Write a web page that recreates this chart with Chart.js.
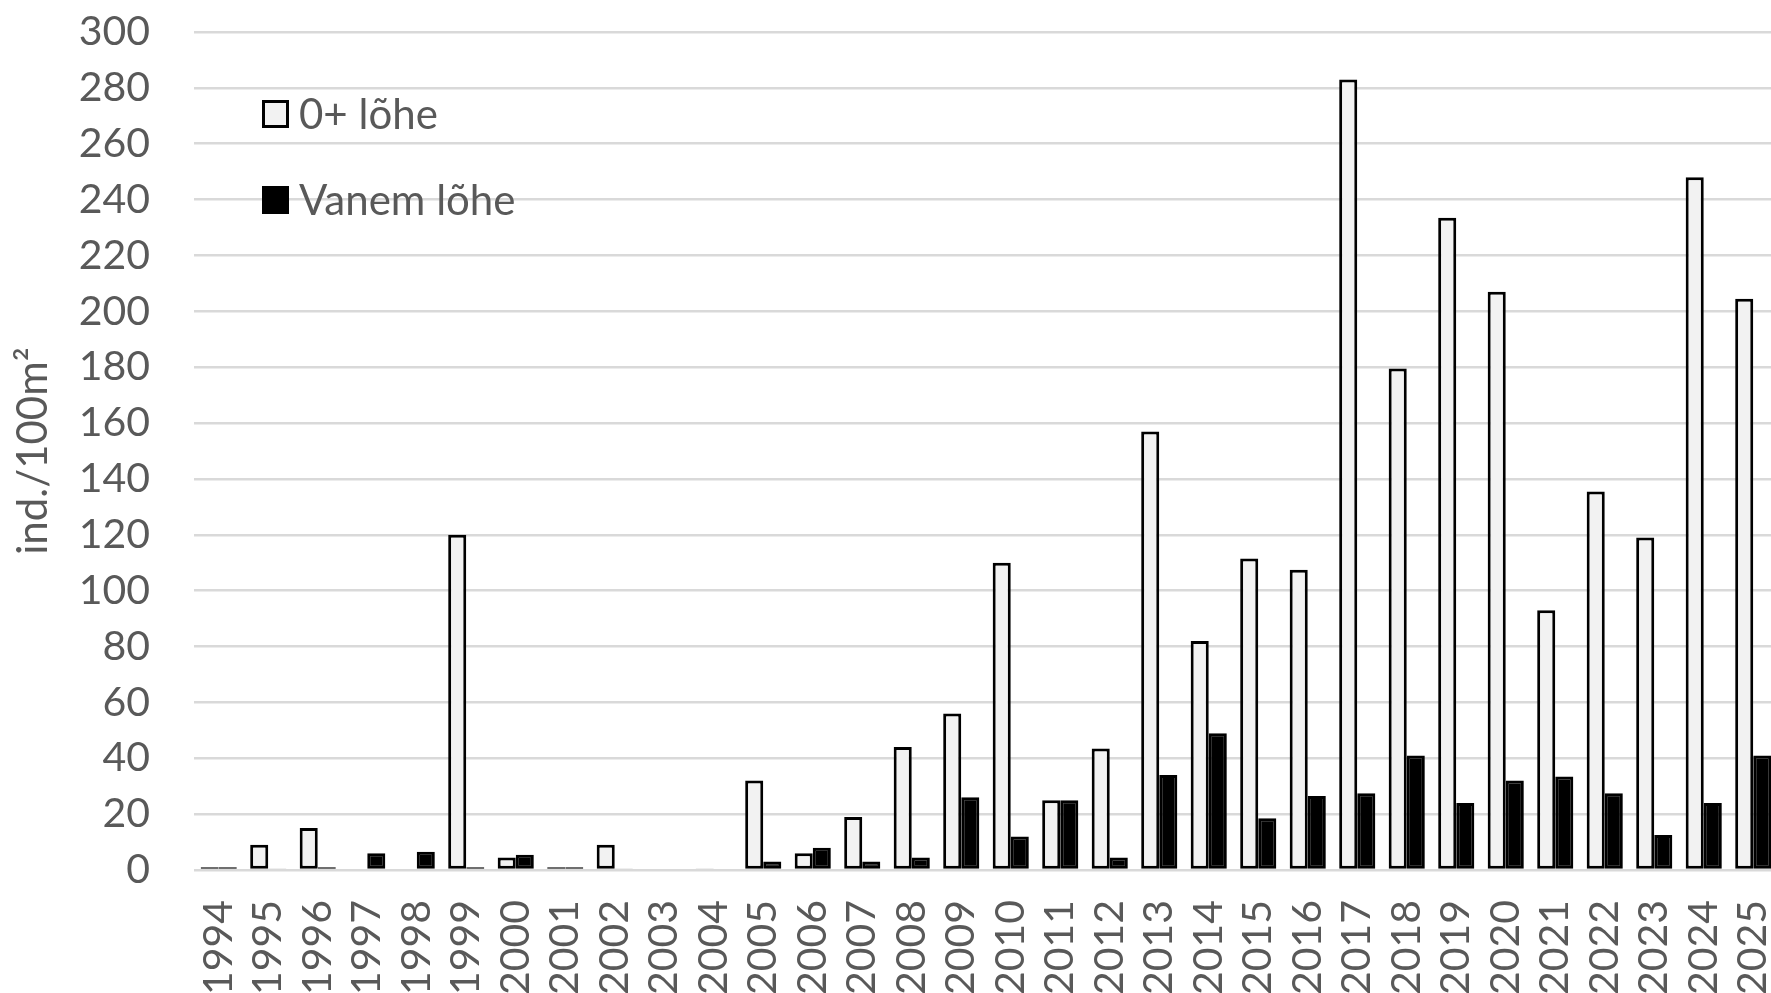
<!DOCTYPE html>
<html>
<head>
<meta charset="utf-8">
<script src="https://cdn.jsdelivr.net/npm/chart.js@4.4.1/dist/chart.umd.min.js"></script>
<style>
  html, body { margin: 0; padding: 0; background: #fff; overflow: hidden; }
  #wrap { width: 1771px; height: 993px; overflow: hidden; }
</style>
</head>
<body>
<div id="wrap"><canvas id="lohe" width="1778" height="993"></canvas></div>
<script>
const years = ["1994","1995","1996","1997","1998","1999","2000","2001","2002","2003","2004",
  "2005","2006","2007","2008","2009","2010","2011","2012","2013","2014","2015","2016",
  "2017","2018","2019","2020","2021","2022","2023","2024","2025"];

const youngSalmon = [1, 9, 15, 0, 0, 120, 4.5, 1, 9, 0, 0.5,
  32, 6, 19, 44, 56, 110, 25, 43.5, 157, 82, 111.5, 107.5,
  283, 179.5, 233.5, 207, 93, 135.5, 119, 248, 204.5];

const olderSalmon = [1, 0.5, 1, 6, 6.5, 1, 5.5, 1, 0.5, 0, 0,
  3, 8, 3, 4.5, 26, 12, 25, 4.5, 34, 49, 18.5, 26.5,
  27.5, 41, 24, 32, 33.5, 27.5, 12.5, 24, 41];

const yTicks = [0, 20, 40, 60, 80, 100, 120, 140, 160, 180, 200, 220, 240, 260, 280, 300];

const textColor = "#595959";
const fontFamily = "Lato, 'Open Sans', sans-serif";

// legend drawn inside the plot area, top left, like the Excel original
const insideLegend = {
  id: "insideLegend",
  afterDraw(chart) {
    const { ctx, chartArea } = chart;
    const x = chartArea.left + 68;
    const rows = [chartArea.top + 68, chartArea.top + 154];
    ctx.save();
    ctx.font = "42px " + fontFamily;
    ctx.textBaseline = "middle";
    chart.data.datasets.forEach((ds, i) => {
      const y = rows[i];
      ctx.fillStyle = ds.backgroundColor;
      ctx.fillRect(x, y, 27, 28);
      ctx.lineWidth = 3;
      ctx.strokeStyle = "#000";
      ctx.strokeRect(x + 1.5, y + 1.5, 24, 25);
      ctx.fillStyle = textColor;
      ctx.fillText(ds.label, x + 37, y + 15);
    });
    ctx.restore();
  }
};

new Chart(document.getElementById("lohe"), {
  type: "bar",
  data: {
    labels: years,
    datasets: [
      {
        label: "0+ lõhe",
        data: youngSalmon,
        backgroundColor: "#f2f2f2",
        borderColor: "#000",
        borderWidth: 3,
        borderSkipped: false
      },
      {
        label: "Vanem lõhe",
        data: olderSalmon,
        backgroundColor: "#000",
        borderColor: "#000",
        borderWidth: 3,
        borderSkipped: false
      }
    ]
  },
  options: {
    responsive: false,
    animation: false,
    devicePixelRatio: 1,
    layout: { padding: { top: 32, right: 0, bottom: 0, left: 0 } },
    datasets: { bar: { categoryPercentage: 0.73, barPercentage: 1 } },
    plugins: {
      legend: { display: false },
      tooltip: { enabled: false }
    },
    scales: {
      x: {
        grid: { display: false },
        border: { display: false },
        ticks: {
          color: textColor,
          font: { family: fontFamily, size: 41 },
          minRotation: 90,
          maxRotation: 90,
          padding: 22,
          autoSkip: false
        },
        afterFit(scale) {
          scale.height = 123;
          scale.paddingLeft = 0;
          scale.paddingRight = 0;
          scale.paddingTop = 0;
          scale.paddingBottom = 0;
        }
      },
      y: {
        min: 0,
        max: 300,
        afterBuildTicks(scale) { scale.ticks = yTicks.map(v => ({ value: v })); },
        grid: { color: "#d9d9d9", lineWidth: 2.5, drawTicks: false },
        border: { display: false },
        ticks: {
          color: textColor,
          font: { family: fontFamily, size: 41 },
          padding: 44
        },
        title: {
          display: true,
          text: "ind./100m²",
          color: textColor,
          font: { family: fontFamily, size: 42 },
          padding: { top: 8, bottom: 0 }
        },
        afterFit(scale) {
          scale.width = 194;
          scale.paddingTop = 0;
          scale.paddingBottom = 0;
        }
      }
    }
  },
  plugins: [insideLegend]
});
</script>
</body>
</html>
